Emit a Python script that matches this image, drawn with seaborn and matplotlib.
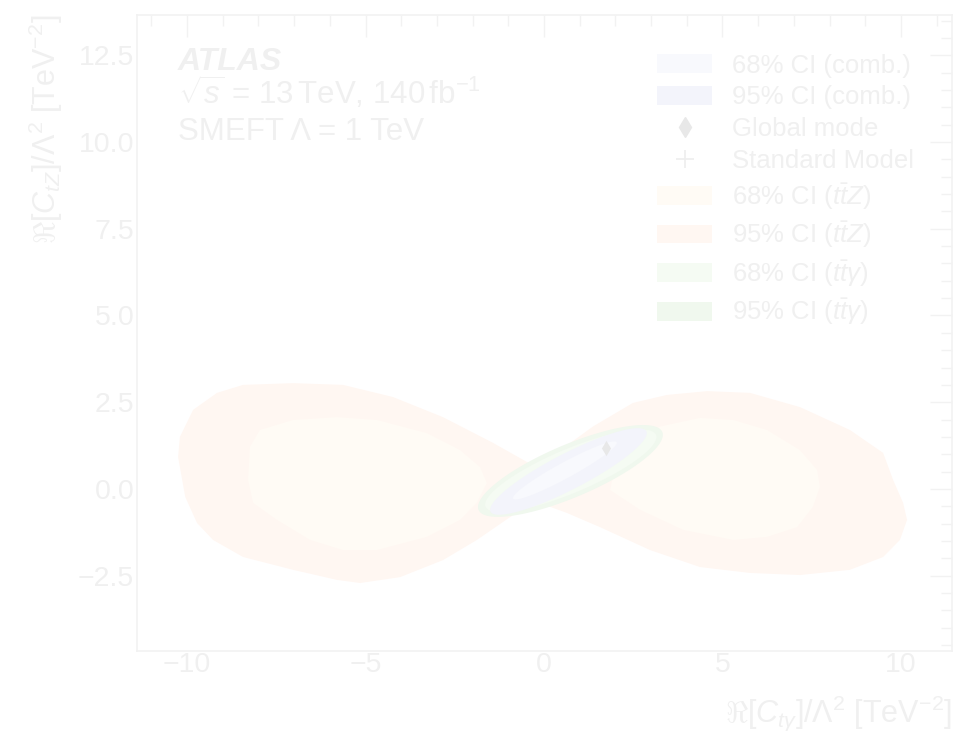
import numpy as np
import pandas as pd
import matplotlib
matplotlib.use("Agg")
import matplotlib.pyplot as plt
import seaborn as sns
from matplotlib.patches import Patch
from matplotlib.lines import Line2D
from matplotlib.ticker import MultipleLocator

# ---------------------------------------------------------------------------
# Contour data: Re[C_tgamma] (x) vs Re[C_tZ] (y), in TeV^-2
# ---------------------------------------------------------------------------
# ttZ, 95% CI: two lobes of the figure-eight region
ttz95_left_x = [-10.25, -10.2, -9.83, -9.16, -8.43, -7.03, -5.63, -4.23, -2.83, -1.43,
                -0.48, 0.5, -0.1, -0.95, -1.88, -2.83, -4.03, -5.15, -5.8, -7.03,
                -8.43, -9.27, -9.72, -10.05]
ttz95_left_y = [0.92, 1.5, 2.28, 2.77, 3.0, 3.05, 3.0, 2.65, 2.07, 1.33,
                0.78, 0.2, -0.3, -0.81, -1.47, -2.05, -2.54, -2.71, -2.62, -2.33,
                -1.96, -1.47, -0.98, -0.23]
ttz95_right_x = [-0.6, 0.3, 1.37, 2.49, 3.44, 4.57, 5.77, 7.17, 8.57, 9.5,
                 9.78, 10.06, 10.17, 9.97, 9.5, 8.57, 7.17, 5.77, 4.37, 2.97,
                 1.57, 0.64, 0.0]
ttz95_right_y = [0.05, 1.0, 1.8, 2.48, 2.71, 2.82, 2.77, 2.36, 1.7, 1.04,
                 0.26, -0.4, -0.89, -1.47, -1.96, -2.33, -2.48, -2.42, -2.25, -1.76,
                 -1.1, -0.69, -0.45]

# ttZ, 68% CI
ttz68_left_x = [-8.29, -8.24, -7.96, -7.03, -5.8, -4.68, -3.28, -2.35, -1.79, -1.6,
                -1.88, -2.35, -3.28, -4.68, -5.63, -6.55, -7.48, -8.15]
ttz68_left_y = [0.26, 1.21, 1.7, 1.99, 2.07, 1.99, 1.61, 1.12, 0.63, 0.17,
                -0.4, -0.89, -1.38, -1.76, -1.76, -1.47, -0.89, -0.4]
ttz68_right_x = [1.85, 2.04, 2.69, 3.25, 4.37, 5.3, 6.25, 7.17, 7.65, 7.73,
                 7.53, 7.09, 6.25, 5.3, 3.9, 2.69]
ttz68_right_y = [-0.03, 0.92, 1.5, 1.8, 2.05, 1.99, 1.7, 1.12, 0.55, 0.06,
                 -0.52, -1.1, -1.38, -1.47, -1.18, -0.6]

# Elongated regions: lower-left end, upper-right end, vertical thickness at the middle
ttg95_ends = [(-1.85, -0.52), (3.33, 1.56)]
ttg95_thick = 1.64
ttg68_ends = [(-1.65, -0.45), (3.15, 1.50)]
ttg68_thick = 1.36
comb95_ends = [(-1.51, -0.60), (2.88, 1.61)]
comb95_thick = 1.16
comb68_ends = [(-0.87, -0.26), (2.04, 1.33)]
comb68_thick = 0.52

# Points of interest
global_mode = pd.DataFrame({"x": [1.74], "y": [1.17]})
standard_model = pd.DataFrame({"x": [0.0], "y": [0.0]})

# ---------------------------------------------------------------------------
# Style
# ---------------------------------------------------------------------------
sns.set_theme(style="white")
plt.rcParams["font.family"] = ["Liberation Sans", "DejaVu Sans"]
plt.rcParams["mathtext.fontset"] = "custom"
plt.rcParams["mathtext.rm"] = "Liberation Sans"
plt.rcParams["mathtext.it"] = "Liberation Sans:italic"
plt.rcParams["mathtext.bf"] = "Liberation Sans:bold"

TXT = "#f0f0f0"
AXC = "#f2f2f2"
C_TTZ95 = "#fff7f2"
C_TTZ68 = "#fffbf5"
C_TTG95 = "#f0f8ee"
C_TTG68 = "#f5fbf3"
C_CMB95 = "#f3f4fb"
C_CMB68 = "#f8f9fd"
C_MARK = "#e8e8e8"
C_PLUS = "#eeeeee"


def band(ends, thick, n=120):
    """Closed outline of an elongated region between two end points."""
    (x0, y0), (x1, y1) = ends
    cx, cy = (x0 + x1) / 2, (y0 + y1) / 2
    t = np.linspace(0, 2 * np.pi, n)
    xs = cx + (x1 - x0) / 2 * np.cos(t)
    ys = cy + (y1 - y0) / 2 * np.cos(t) + thick / 2 * np.sin(t)
    return xs, ys


fig = plt.figure(figsize=(9.55, 7.31), dpi=100)
ax = fig.add_axes([0.1435, 0.1094, 0.8534, 0.8701])

# Standard Model point sits beneath the filled regions
ax.plot(standard_model["x"], standard_model["y"], ls="none", marker="+", ms=14,
        mew=1.2, color=C_PLUS, zorder=0.5)

# ttZ regions
ax.fill(ttz95_left_x, ttz95_left_y, color=C_TTZ95, lw=0, zorder=1)
ax.fill(ttz95_right_x, ttz95_right_y, color=C_TTZ95, lw=0, zorder=1)
ax.fill(ttz68_left_x, ttz68_left_y, color=C_TTZ68, lw=0, zorder=1)
ax.fill(ttz68_right_x, ttz68_right_y, color=C_TTZ68, lw=0, zorder=1)

# ttgamma regions
ax.fill(*band(ttg95_ends, ttg95_thick), color=C_TTG95, lw=0, zorder=2)
ax.fill(*band(ttg68_ends, ttg68_thick), color=C_TTG68, lw=0, zorder=2)

# combined regions
ax.fill(*band(comb95_ends, comb95_thick), color=C_CMB95, lw=0, zorder=3)
ax.fill(*band(comb68_ends, comb68_thick), color=C_CMB68, lw=0, zorder=3)

sns.scatterplot(data=global_mode, x="x", y="y", marker="d", s=60, color=C_MARK,
                edgecolor=C_MARK, linewidth=0, ax=ax, zorder=5, legend=False)

ax.set_xlim(-11.4, 11.43)
ax.set_ylim(-4.67, 13.66)

ax.xaxis.set_major_locator(MultipleLocator(5))
ax.xaxis.set_minor_locator(MultipleLocator(1))
ax.yaxis.set_major_locator(MultipleLocator(2.5))
ax.yaxis.set_minor_locator(MultipleLocator(0.5))
ax.tick_params(which="both", direction="in", top=True, right=True,
               color=AXC, labelcolor=TXT, labelsize=20.5, width=1.0)
ax.tick_params(which="major", length=16)
ax.tick_params(which="minor", length=8)
ax.tick_params(axis="y", which="major", pad=2)
ax.tick_params(axis="x", which="major", pad=1)
for sp in ax.spines.values():
    sp.set_color(AXC)
    sp.set_linewidth(1.2)

ax.set_xlabel(r"$\Re[C_{t\gamma}]/\Lambda^2$ [TeV$^{-2}$]", fontsize=22,
              color=TXT, loc="right")
ax.set_ylabel(r"$\Re[C_{tZ}]/\Lambda^2$ [TeV$^{-2}$]", fontsize=22,
              color=TXT, loc="top")
ax.xaxis.set_label_coords(1.0, -0.066)
ax.yaxis.set_label_coords(-0.088, 1.0)

ax.text(0.05, 0.914, "ATLAS", transform=ax.transAxes, fontsize=23,
        fontweight="bold", fontstyle="italic", color=TXT)
ax.text(0.05, 0.860, r"$\sqrt{s}$ = 13$\,$TeV, 140$\,$fb$^{-1}$",
        transform=ax.transAxes, fontsize=22.5, color=TXT)
ax.text(0.05, 0.8036, "SMEFT Λ = 1 TeV", transform=ax.transAxes,
        fontsize=22.5, color=TXT)

handles = [
    Patch(facecolor=C_CMB68, edgecolor="none", label="68% CI (comb.)"),
    Patch(facecolor=C_CMB95, edgecolor="none", label="95% CI (comb.)"),
    Line2D([], [], ls="none", marker="d", ms=10, color=C_MARK, label="Global mode"),
    Line2D([], [], ls="none", marker="+", ms=13, mew=1.2, color=C_PLUS,
           label="Standard Model"),
    Patch(facecolor=C_TTZ68, edgecolor="none", label=r"68% CI ($t\bar{t}Z$)"),
    Patch(facecolor=C_TTZ95, edgecolor="none", label=r"95% CI ($t\bar{t}Z$)"),
    Patch(facecolor=C_TTG68, edgecolor="none", label=r"68% CI ($t\bar{t}\gamma$)"),
    Patch(facecolor=C_TTG95, edgecolor="none", label=r"95% CI ($t\bar{t}\gamma$)"),
]
leg = ax.legend(handles=handles, loc="upper left", bbox_to_anchor=(0.638, 0.939),
                frameon=False, fontsize=18.5, handlelength=2.14, handleheight=0.74,
                handletextpad=0.78, labelspacing=0.3, borderpad=0, borderaxespad=0)
for t in leg.get_texts():
    t.set_color(TXT)

fig.savefig("out.png", dpi=100, facecolor="white")
